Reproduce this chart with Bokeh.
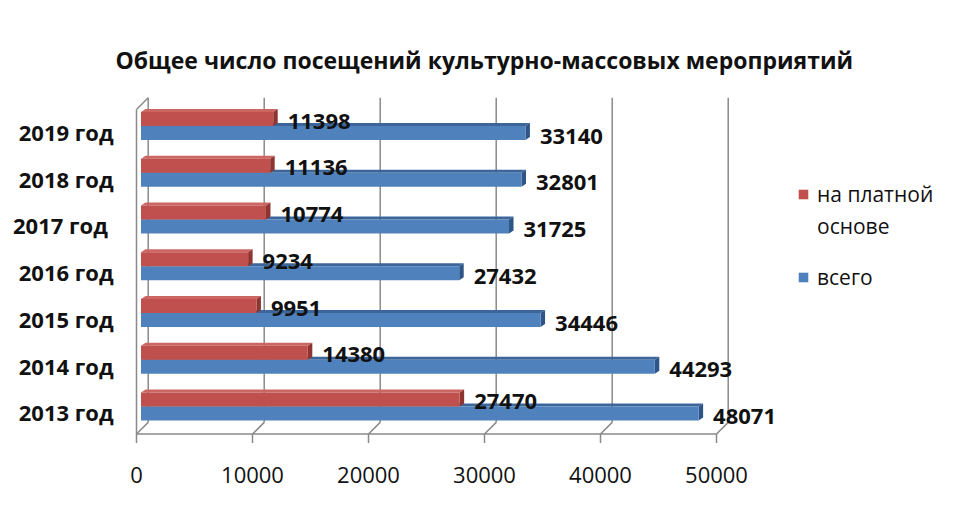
from bokeh.plotting import figure
from bokeh.models import Range1d, FixedTicker, Legend, LegendItem
from bokeh.core.properties import value
from bokeh.embed import file_html
from bokeh.resources import INLINE

# ---- data ----
years = ["2013 год", "2014 год", "2015 год", "2016 год", "2017 год ", "2018 год", "2019 год"]
paid = [27470, 14380, 9951, 9234, 10774, 11136, 11398]      # на платной основе
total = [48071, 44293, 34446, 27432, 31725, 32801, 33140]   # всего
x_ticks = [0, 10000, 20000, 30000, 40000, 50000]
title_text = "Общее число посещений культурно-массовых мероприятий"
legend_paid = ["на платной", "основе"]
legend_total = "всего"

RED, RED_TOP, RED_SIDE = "#C0504D", "#CC6663", "#8E3532"
BLUE, BLUE_TOP, BLUE_SIDE = "#4F81BD", "#3C6699", "#2D5686"
GRID = "#8a8a8a"
FONT = "Open Sans"

# 3-D geometry constants (in data units)
PX_X = 0.0116           # px per x unit
PX_Y = 46.75            # px per y unit
DX = 11.7 / PX_X        # depth of the walls
DY = 11.7 / PX_Y
FLOOR_F = -0.463
FLOOR_B = FLOOR_F + DY
TOP_F = 6.48
TOP_B = TOP_F + DY
BX = 4.5 / PX_X         # bar plane offset
BY = 5.85 / PX_Y
FH = 14.0 / PX_Y        # bar face height
DX2 = 4.5 / PX_X        # bar depth
DY2 = 3.0 / PX_Y

p = figure(width=944, height=494, output_backend="svg", toolbar_location=None,
           x_range=Range1d(-862, 69655), y_range=Range1d(-0.75, 6.95),
           min_border_left=126, min_border_right=0, min_border_top=87,
           min_border_bottom=47, background_fill_color="white",
           border_fill_color="white")
p.outline_line_color = None
p.grid.visible = False

# title
p.title.text = title_text
p.title.text_font = FONT
p.title.text_font_size = "23px"
p.title.text_font_style = "bold"
p.title.text_color = "#111111"
p.title.align = "left"
p.title.offset = -11
p.title.standoff = 23

# axes
p.xaxis.ticker = FixedTicker(ticks=x_ticks)
p.xaxis.axis_line_color = None
p.xaxis.major_tick_line_color = None
p.xaxis.minor_tick_line_color = None
p.xaxis.major_tick_out = 0
p.xaxis.major_tick_in = 0
p.xaxis.minor_tick_out = 0
p.xaxis.major_label_text_font = FONT
p.xaxis.major_label_text_font_size = "22px"
p.xaxis.major_label_text_color = "#111111"
p.xaxis.major_label_standoff = 19

ypos = list(range(len(years)))
p.yaxis.ticker = FixedTicker(ticks=ypos)
p.yaxis.major_label_overrides = {i: y for i, y in zip(ypos, years)}
p.yaxis.axis_line_color = None
p.yaxis.major_tick_line_color = None
p.yaxis.minor_tick_line_color = None
p.yaxis.major_tick_out = 0
p.yaxis.major_tick_in = 0
p.yaxis.minor_tick_out = 0
p.yaxis.major_label_text_font = FONT
p.yaxis.major_label_text_font_size = "22px"
p.yaxis.major_label_text_font_style = "bold"
p.yaxis.major_label_text_color = "#111111"
p.yaxis.major_label_standoff = 13

# walls and floor
xmax = x_ticks[-1]
p.segment(x0=[t + DX for t in x_ticks], y0=[FLOOR_B] * len(x_ticks),
          x1=[t + DX for t in x_ticks], y1=[TOP_B] * len(x_ticks),
          line_color=GRID, line_width=1.5)
p.segment(x0=x_ticks, y0=[FLOOR_F] * len(x_ticks),
          x1=[t + DX for t in x_ticks], y1=[FLOOR_B] * len(x_ticks),
          line_color=GRID, line_width=1.5)
p.segment(x0=x_ticks, y0=[FLOOR_F] * len(x_ticks),
          x1=x_ticks, y1=[FLOOR_F - 0.19] * len(x_ticks),
          line_color=GRID, line_width=1.5)
p.segment(x0=[0, 0, 0], y0=[FLOOR_F, FLOOR_F, TOP_F],
          x1=[xmax, 0, DX], y1=[FLOOR_F, TOP_F, TOP_B],
          line_color=GRID, line_width=1.5)

# bars
base = [i + BY for i in ypos]


def top_face(vals, yb):
    xs = [[BX, v + BX, v + BX + DX2, BX + DX2] for v in vals]
    ys = [[y, y, y + DY2, y + DY2] for y in yb]
    return xs, ys


def side_face(vals, y0s, y1s):
    xs = [[v + BX, v + BX, v + BX + DX2, v + BX + DX2] for v in vals]
    ys = [[a, b, b + DY2, a + DY2] for a, b in zip(y0s, y1s)]
    return xs, ys


# blue (всего) – lower bar
xs, ys = top_face(total, base)
p.patches(xs, ys, fill_color=BLUE_TOP, line_color=None)
xs, ys = side_face(total, [b - FH for b in base], base)
p.patches(xs, ys, fill_color=BLUE_SIDE, line_color=None)
r_blue = p.hbar(y=[b - FH / 2 for b in base], height=FH, left=BX,
                right=[v + BX for v in total], fill_color=BLUE, line_color=None)

# red (на платной основе) – upper bar
xs, ys = top_face(paid, [b + FH for b in base])
p.patches(xs, ys, fill_color=RED_TOP, line_color=None)
xs, ys = side_face(paid, base, [b + FH for b in base])
p.patches(xs, ys, fill_color=RED_SIDE, line_color=None)
r_red = p.hbar(y=[b + FH / 2 for b in base], height=FH, left=BX,
               right=[v + BX for v in paid], fill_color=RED, line_color=None)

# data labels
p.text(x=paid, y=[b + FH / 2 for b in base], text=[str(v) for v in paid],
       x_offset=19, y_offset=2, text_font=value(FONT), text_font_size="22px",
       text_font_style="bold", text_baseline="middle", text_align="left",
       text_color="#111111")
p.text(x=total, y=[b - FH / 2 for b in base], text=[str(v) for v in total],
       x_offset=19, y_offset=3, text_font=value(FONT), text_font_size="22px",
       text_font_style="bold", text_baseline="middle", text_align="left",
       text_color="#111111")

# legends
dummy = p.scatter(x=[], y=[], marker="square", fill_alpha=0, line_alpha=0)


def style_legend(lg):
    lg.label_text_font = FONT
    lg.label_text_font_size = "21px"
    lg.label_text_color = "#111111"
    lg.glyph_width = 12
    lg.glyph_height = 12
    lg.label_standoff = 8
    lg.padding = 0
    lg.margin = 0
    lg.border_line_color = None
    lg.background_fill_alpha = 0
    lg.label_height = 29


lg1 = Legend(items=[LegendItem(label=legend_paid[0], renderers=[r_red]),
                    LegendItem(label=legend_paid[1], renderers=[dummy])],
             location=(671, 207), spacing=3)
lg2 = Legend(items=[LegendItem(label=legend_total, renderers=[r_blue])],
             location=(671, 156))
style_legend(lg1)
style_legend(lg2)
p.add_layout(lg1)
p.add_layout(lg2)

open("out.html", "w").write(file_html(p, INLINE))
